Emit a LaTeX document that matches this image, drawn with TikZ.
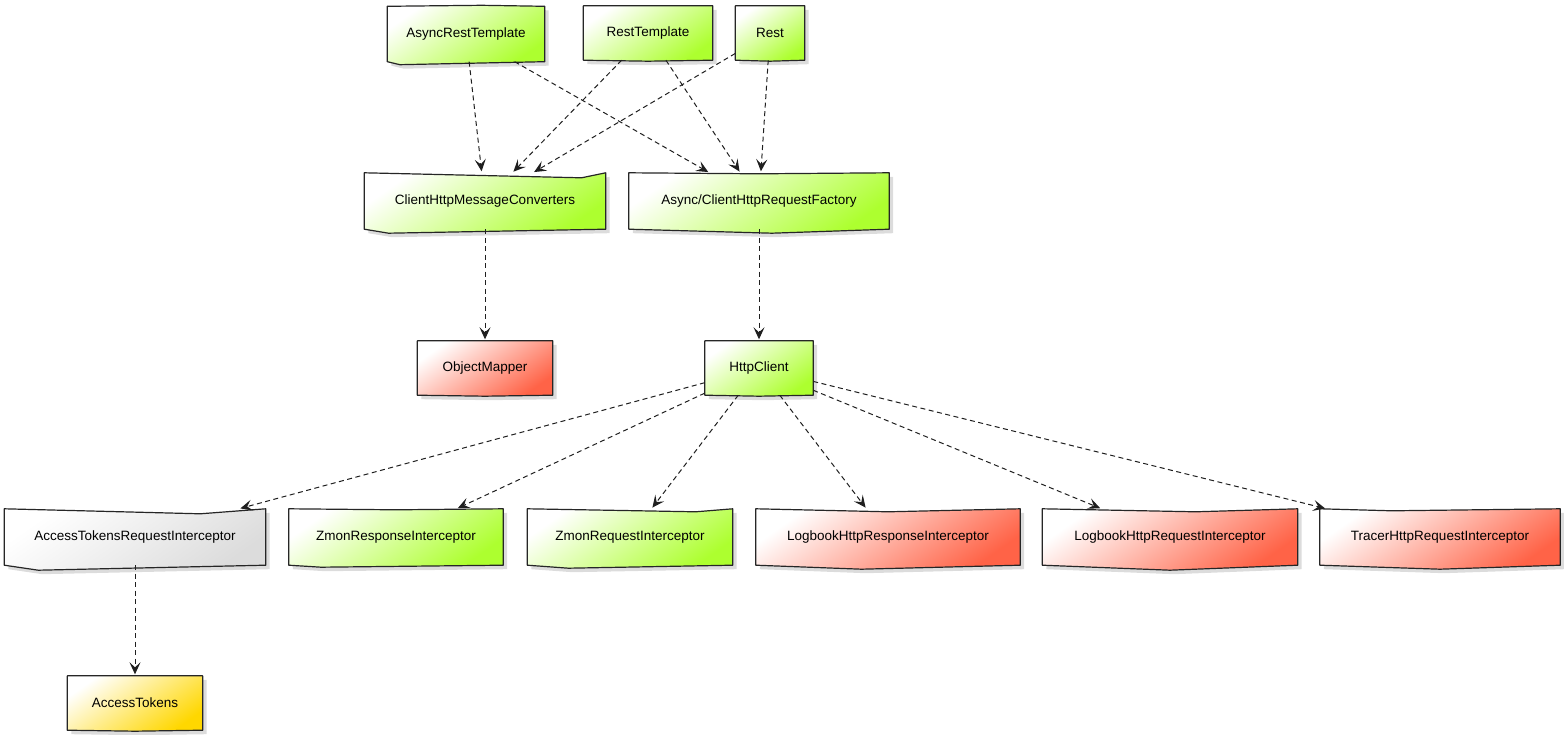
\documentclass[tikz,border=0pt]{standalone}
\usepackage{fontspec}
\setmainfont{Liberation Sans}
\usetikzlibrary{calc,shadows,backgrounds,arrows.meta}
\definecolor{cgreen}{HTML}{ADFF2F}
\definecolor{cred}{HTML}{FF6347}
\definecolor{cgrey}{HTML}{DCDCDC}
\definecolor{cgold}{HTML}{FFD700}
\tikzset{
  box/.style={inner sep=0pt, font=\fontsize{13.5}{16}\selectfont},
  dep/.style={draw=black!88, dash pattern=on 5pt off 3.5pt, line width=1pt,
    shorten >=1.5pt,
    -{Stealth[length=12pt,width=11pt,inset=5pt]}},
  skin/.style={draw=black!85, line width=1.2pt, line join=round, top color=white,
    bottom color=#1, shading angle=35,
    drop shadow={opacity=0.28, shadow xshift=4pt, shadow yshift=-4pt}},
}
\newcommand\skbox[6]{%
  \path[skin=#2] (#1.north west)
    -- ($(#1.north west)!#3!(#1.north east)+(0,#4)$)
    -- (#1.north east) -- (#1.south east)
    -- ($(#1.south east)!#5!(#1.south west)+(0,#6)$)
    -- (#1.south west) -- cycle;}
\begin{document}
\begin{tikzpicture}[x=1pt,y=-1pt]
\useasboundingbox (0,0) rectangle (1564,735);
% nodes
\node[box, minimum width=157, minimum height=55] (art) at (466,34) {AsyncRestTemplate};
\node[box, minimum width=129, minimum height=54] (rt) at (648,33) {RestTemplate};
\node[box, minimum width=69, minimum height=54] (rest) at (770,33) {Rest};
\node[box, minimum width=241, minimum height=56] (chmc) at (485,201) {ClientHttpMessageConverters};
\node[box, minimum width=260, minimum height=56] (fac) at (759,201) {Async/ClientHttpRequestFactory};
\node[box, minimum width=135, minimum height=54] (om) at (485,368) {ObjectMapper};
\node[box, minimum width=108, minimum height=54] (hc) at (759,368) {HttpClient};
\node[box, minimum width=261, minimum height=56] (atri) at (135,537) {AccessTokensRequestInterceptor};
\node[box, minimum width=214, minimum height=56] (zrsp) at (396,537) {ZmonResponseInterceptor};
\node[box, minimum width=205, minimum height=56] (zreq) at (630,537) {ZmonRequestInterceptor};
\node[box, minimum width=264, minimum height=56] (lres) at (888,537) {LogbookHttpResponseInterceptor};
\node[box, minimum width=255, minimum height=56] (lreq) at (1170,537) {LogbookHttpRequestInterceptor};
\node[box, minimum width=240, minimum height=56] (tri) at (1440,537) {TracerHttpRequestInterceptor};
\node[box, minimum width=135, minimum height=54] (at) at (135,703) {AccessTokens};
% shapes
\begin{scope}[on background layer]
\skbox{art}{cgreen}{0.6}{-1}{0.92}{3}
\skbox{rt}{cgreen}{0.5}{0}{0.5}{1}
\skbox{rest}{cgreen}{0.5}{0}{0.5}{1}
\skbox{chmc}{cgreen}{0.9}{5}{0.9}{4}
\skbox{fac}{cgreen}{0.5}{1}{0.45}{4}
\skbox{om}{cred}{0.5}{0}{0.5}{1}
\skbox{hc}{cgreen}{0.5}{0}{0.5}{1}
\skbox{atri}{cgrey}{0.75}{5}{0.87}{5}
\skbox{zrsp}{cgreen}{0.5}{1}{0.85}{2}
\skbox{zreq}{cgreen}{0.82}{3}{0.8}{3}
\skbox{lres}{cred}{0.5}{3}{0.6}{4}
\skbox{lreq}{cred}{0.6}{3}{0.5}{5}
\skbox{tri}{cred}{0.3}{2}{0.5}{4}
\skbox{at}{cgold}{0.5}{0}{0.5}{1}
\end{scope}
% connectors
\draw[dep] (art) -- (chmc);
\draw[dep] (art) -- (fac);
\draw[dep] (rt) -- (chmc);
\draw[dep] (rt) -- (fac);
\draw[dep] (rest) -- (chmc);
\draw[dep] (rest) -- (fac);
\draw[dep] (chmc) -- (om);
\draw[dep] (fac) -- (hc);
\draw[dep] (hc) -- (atri);
\draw[dep] (hc) -- (zrsp);
\draw[dep] (hc) -- (zreq);
\draw[dep] (hc) -- (lres);
\draw[dep] (hc) -- (lreq);
\draw[dep] (hc) -- (tri);
\draw[dep] (atri) -- (at);
\end{tikzpicture}
\end{document}
